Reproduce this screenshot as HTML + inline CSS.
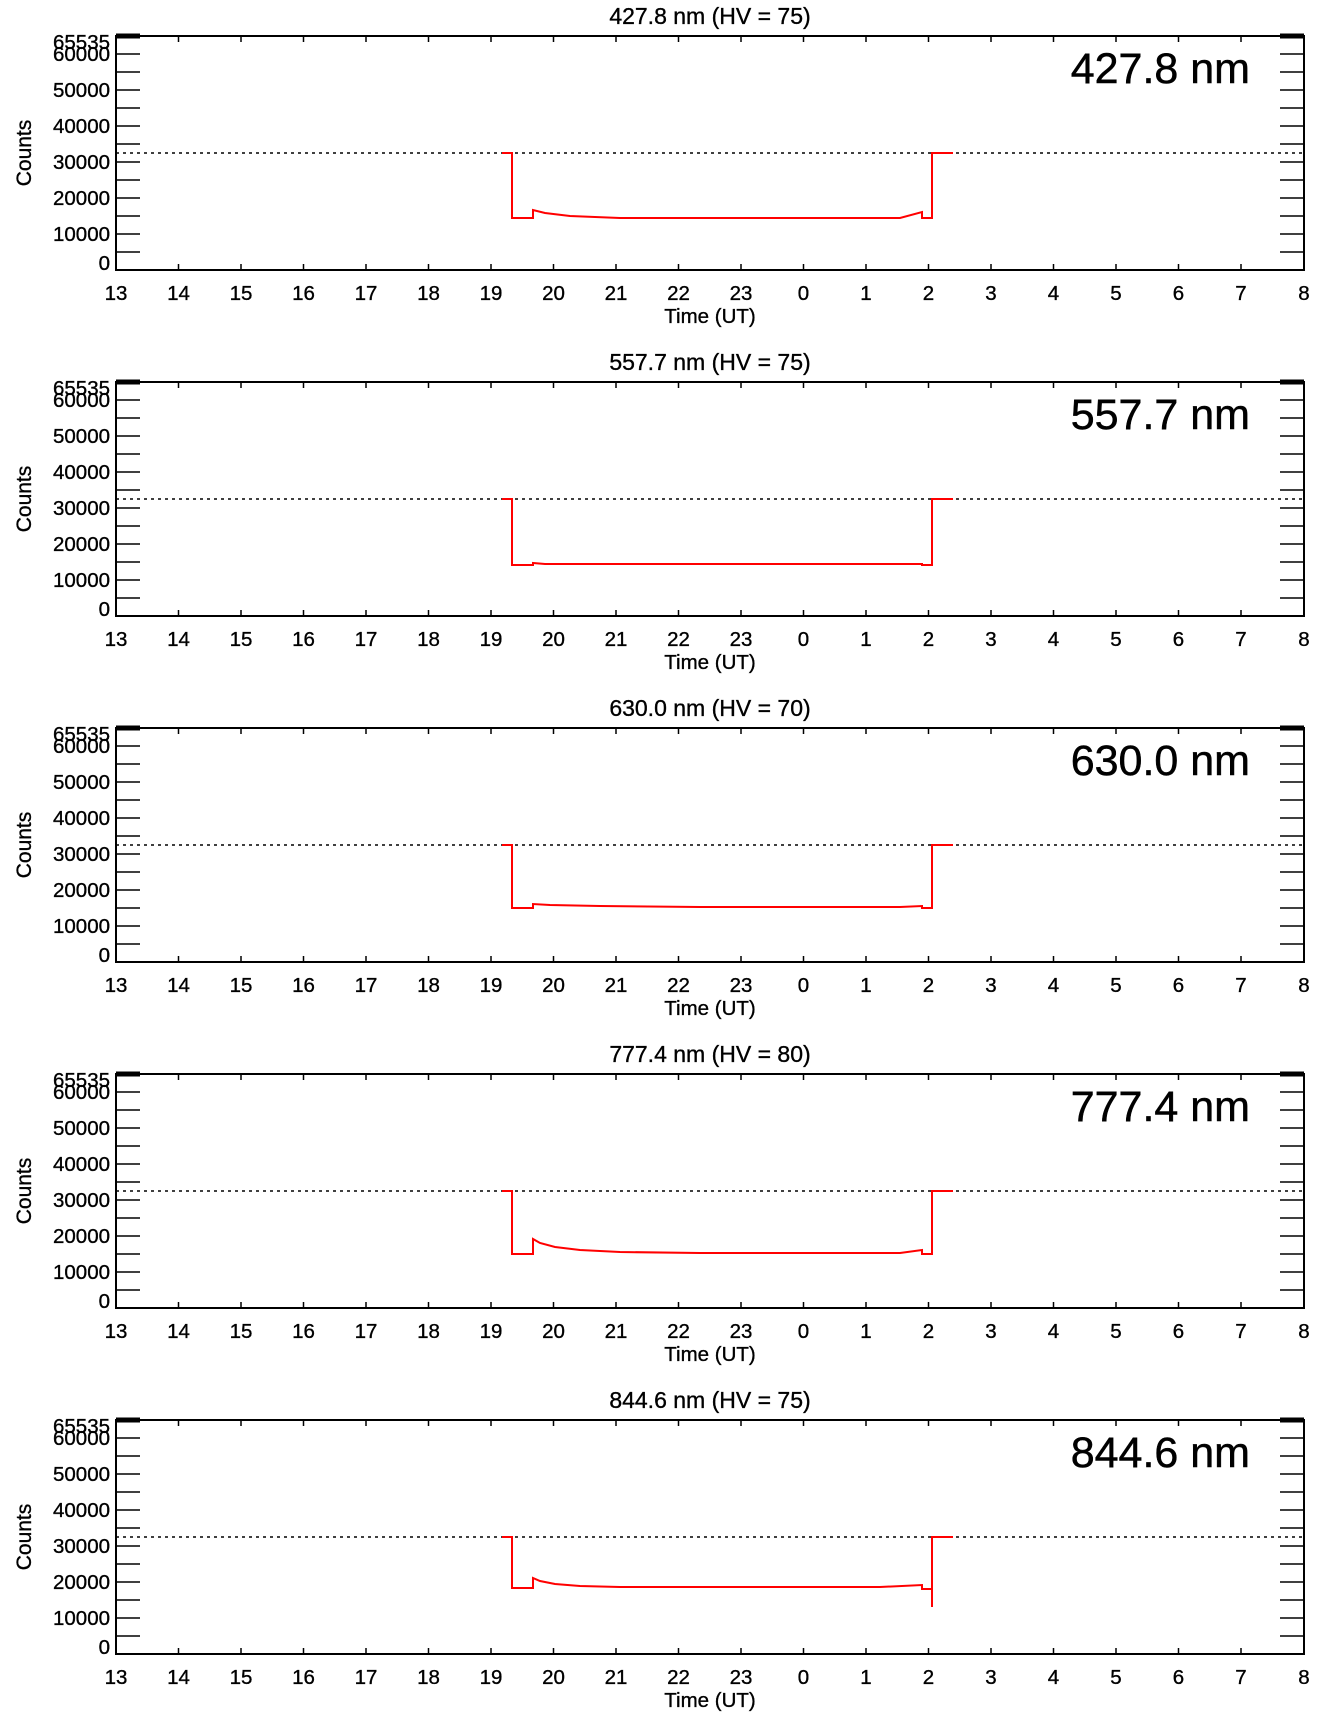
<!DOCTYPE html>
<html><head><style>
html,body{margin:0;padding:0;background:#fff;}
svg{display:block;}
text{font-family:"Liberation Sans",Helvetica,Arial,sans-serif;fill:#000;stroke:#000;stroke-width:0.35;}
.tl{font-size:21px;}
.yl{font-size:20.5px;text-anchor:end;}
.xl{font-size:20.5px;text-anchor:middle;}
.ti{font-size:23px;text-anchor:middle;}
.big{font-size:43px;text-anchor:end;stroke-width:0.5;}
</style></head><body>
<svg width="1336" height="1731" viewBox="0 0 1336 1731" xmlns="http://www.w3.org/2000/svg">
<defs>
<g id="frame">
<rect x="116" y="36" width="1188" height="234" fill="none" stroke="#000" stroke-width="2"/>
<line x1="116" y1="36" x2="140" y2="36" stroke="#000" stroke-width="5"/>
<line x1="1280" y1="36" x2="1304" y2="36" stroke="#000" stroke-width="5"/>
<path d="M116,252h24M116,234h24M116,216h24M116,198h24M116,180h24M116,162h24M116,144h24M116,126h24M116,108h24M116,90h24M116,72h24M116,54h24
M1280,252h24M1280,234h24M1280,216h24M1280,198h24M1280,180h24M1280,162h24M1280,144h24M1280,126h24M1280,108h24M1280,90h24M1280,72h24M1280,54h24" stroke="#000" stroke-width="1.5"/>
<path d="M178.5,270v-6M241,270v-6M303.5,270v-6M366,270v-6M428.5,270v-6M491,270v-6M553.5,270v-6M616,270v-6M678.5,270v-6M741,270v-6M803.5,270v-6M866,270v-6M928.5,270v-6M991,270v-6M1053.5,270v-6M1116,270v-6M1178.5,270v-6M1241,270v-6
M178.5,36v6M241,36v6M303.5,36v6M366,36v6M428.5,36v6M491,36v6M553.5,36v6M616,36v6M678.5,36v6M741,36v6M803.5,36v6M866,36v6M928.5,36v6M991,36v6M1053.5,36v6M1116,36v6M1178.5,36v6M1241,36v6" stroke="#000" stroke-width="1.5"/>
<line x1="116" y1="153" x2="1304" y2="153" stroke="#000" stroke-width="1.5" stroke-dasharray="3,4"/>
</g>
<g id="labels">
<text class="yl" x="110" y="49">65535</text>
<text class="yl" x="110" y="61">60000</text>
<text class="yl" x="110" y="97">50000</text>
<text class="yl" x="110" y="133">40000</text>
<text class="yl" x="110" y="169">30000</text>
<text class="yl" x="110" y="205">20000</text>
<text class="yl" x="110" y="241">10000</text>
<text class="yl" x="110" y="270">0</text>
<text class="tl" transform="translate(31,153) rotate(-90)" text-anchor="middle">Counts</text>
<text class="xl" x="116" y="300">13</text><text class="xl" x="178.5" y="300">14</text><text class="xl" x="241" y="300">15</text><text class="xl" x="303.5" y="300">16</text><text class="xl" x="366" y="300">17</text><text class="xl" x="428.5" y="300">18</text><text class="xl" x="491" y="300">19</text><text class="xl" x="553.5" y="300">20</text><text class="xl" x="616" y="300">21</text><text class="xl" x="678.5" y="300">22</text><text class="xl" x="741" y="300">23</text><text class="xl" x="803.5" y="300">0</text><text class="xl" x="866" y="300">1</text><text class="xl" x="928.5" y="300">2</text><text class="xl" x="991" y="300">3</text><text class="xl" x="1053.5" y="300">4</text><text class="xl" x="1116" y="300">5</text><text class="xl" x="1178.5" y="300">6</text><text class="xl" x="1241" y="300">7</text><text class="xl" x="1304" y="300">8</text>
<text class="xl" x="710" y="323">Time (UT)</text>
</g>
</defs>

<g>
<use href="#frame"/><use href="#labels"/>
<text class="ti" x="710" y="24">427.8 nm (HV = 75)</text>
<text class="big" x="1250" y="83">427.8 nm</text>
<path d="M502,153H512V218H533V210L545,213L570,216L620,218H900L922,212V218H932V153H953" fill="none" stroke="#f00" stroke-width="2"/>
</g>

<g transform="translate(0,346)">
<use href="#frame"/><use href="#labels"/>
<text class="ti" x="710" y="24">557.7 nm (HV = 75)</text>
<text class="big" x="1250" y="83">557.7 nm</text>
<path d="M502,153H512V219H533V217L545,218H922V219H932V153H953" fill="none" stroke="#f00" stroke-width="2"/>
</g>

<g transform="translate(0,692)">
<use href="#frame"/><use href="#labels"/>
<text class="ti" x="710" y="24">630.0 nm (HV = 70)</text>
<text class="big" x="1250" y="83">630.0 nm</text>
<path d="M502,153H512V216H533V212L550,213L600,214L700,215H900L922,214V216H932V153H953" fill="none" stroke="#f00" stroke-width="2"/>
</g>

<g transform="translate(0,1038)">
<use href="#frame"/><use href="#labels"/>
<text class="ti" x="710" y="24">777.4 nm (HV = 80)</text>
<text class="big" x="1250" y="83">777.4 nm</text>
<path d="M502,153H512V216H533V201L540,205L555,209L580,212L620,214L700,215H900L922,212V216H932V153H953" fill="none" stroke="#f00" stroke-width="2"/>
</g>

<g transform="translate(0,1384)">
<use href="#frame"/><use href="#labels"/>
<text class="ti" x="710" y="24">844.6 nm (HV = 75)</text>
<text class="big" x="1250" y="83">844.6 nm</text>
<path d="M502,153H512V204H533V194L540,197L555,200L580,202L620,203H880L922,201V205H932V223V153H953" fill="none" stroke="#f00" stroke-width="2"/>
</g>
</svg>
</body></html>
